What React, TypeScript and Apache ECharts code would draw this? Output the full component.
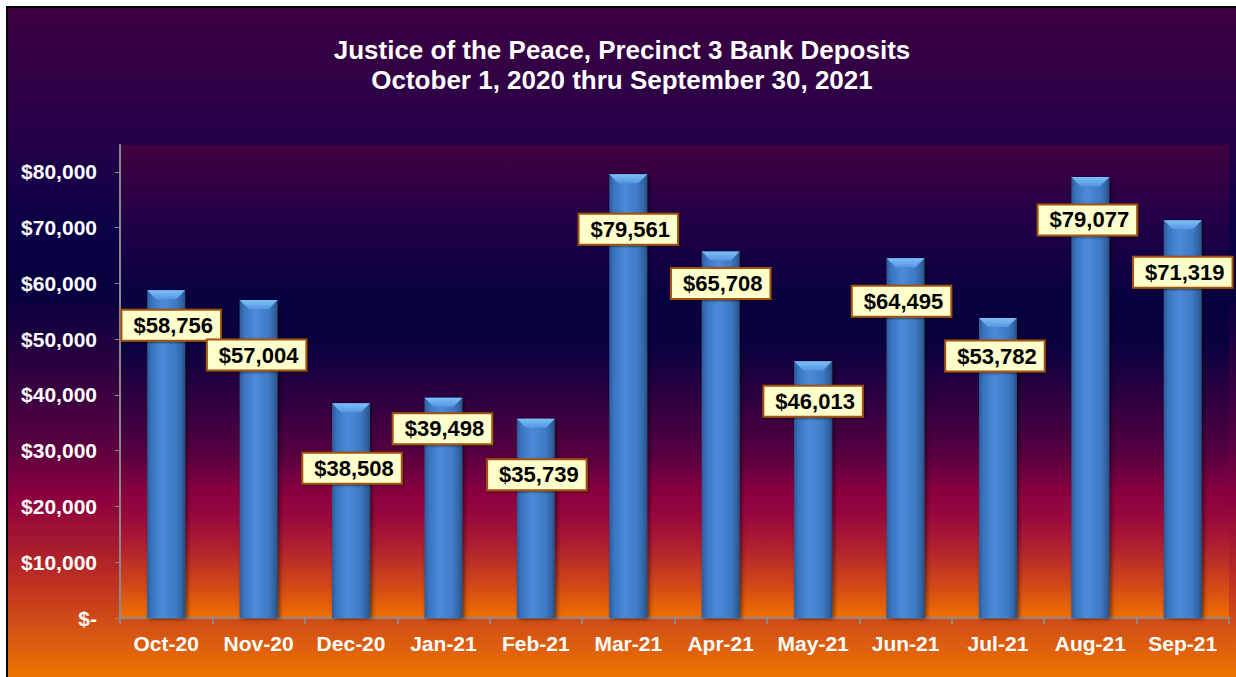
import React, { useEffect, useRef } from "react";
import * as echarts from "echarts";

const titleLine1 = "Justice of the Peace, Precinct 3 Bank Deposits";
const titleLine2 = "October 1, 2020 thru September 30, 2021";
const months = ["Oct-20", "Nov-20", "Dec-20", "Jan-21", "Feb-21", "Mar-21", "Apr-21", "May-21", "Jun-21", "Jul-21", "Aug-21", "Sep-21"];
const deposits = [58756, 57004, 38508, 39498, 35739, 79561, 65708, 46013, 64495, 53782, 79077, 71319];
const yTicks = [0, 10000, 20000, 30000, 40000, 50000, 60000, 70000, 80000];
// label placement (style): px below the bar top for label centre, and horizontal nudge
const labelDy = [35, 55, 65, 31, 56, 55, 32, 40, 43, 38, 43, 52];
const labelDx = [5, -2, 1, -1, 1, 0, 0, 0, -4, -3, -3, 0];

const FONT = 'Arial, "Liberation Sans", sans-serif';

function fmtMoney(v: number): string {
  if (v === 0) return "$-";
  return "$" + v.toLocaleString("en-US");
}

export default function App() {
  const ref = useRef<HTMLDivElement>(null);
  useEffect(() => {
    if (!ref.current) return;
    const chart = echarts.init(ref.current, undefined, { renderer: "svg" });
    const barW = 38;
    const option: any = {
      animation: false,
      backgroundColor: {
        type: "linear", x: 0, y: 0, x2: 0, y2: 1,
        colorStops: [
          { offset: 0, color: "#3d0040" },
          { offset: 0.2, color: "#25004a" },
          { offset: 0.33, color: "#0a0046" },
          { offset: 0.43, color: "#080040" },
          { offset: 0.556, color: "#330040" },
          { offset: 0.646, color: "#550040" },
          { offset: 0.735, color: "#8e003e" },
          { offset: 0.8, color: "#a51a30" },
          { offset: 0.86, color: "#c03020" },
          { offset: 0.915, color: "#d04c18" },
          { offset: 1, color: "#ee7400" },
        ],
      },
      title: {
        text: titleLine1 + "\n" + titleLine2,
        left: "center",
        top: 27,
        padding: 0,
        textStyle: { color: "#ffffff", fontSize: 26, fontWeight: "bold", fontFamily: FONT, lineHeight: 30 },
      },
      grid: {
        left: 112, right: 7, top: 137, bottom: 59,
        show: true,
        borderWidth: 0,
        backgroundColor: {
          type: "linear", x: 0, y: 0, x2: 0, y2: 1,
          colorStops: [
            { offset: 0, color: "#420040" },
            { offset: 0.18, color: "#1e0048" },
            { offset: 0.33, color: "#070040" },
            { offset: 0.42, color: "#0a0040" },
            { offset: 0.54, color: "#2e0040" },
            { offset: 0.65, color: "#550040" },
            { offset: 0.73, color: "#880040" },
            { offset: 0.79, color: "#9a0a3c" },
            { offset: 0.85, color: "#b02030" },
            { offset: 0.93, color: "#d04818" },
            { offset: 1, color: "#f07000" },
          ],
        },
      },
      xAxis: {
        type: "category",
        data: months,
        axisLine: { show: true, lineStyle: { color: "#8a8a8a", width: 2 } },
        axisTick: { show: true, length: 6, lineStyle: { color: "#8a8a8a", width: 2 } },
        axisLabel: { color: "#ffffff", fontSize: 21, fontWeight: "bold", fontFamily: FONT, margin: 15, interval: 0, hideOverlap: false },
      },
      yAxis: {
        type: "value",
        min: 0,
        max: 84800,
        interval: 10000,
        splitLine: { show: false },
        axisLine: { show: true, lineStyle: { color: "#8a8a8a", width: 2 } },
        axisTick: { show: true, length: 5, lineStyle: { color: "#8a8a8a", width: 1 }, customValues: yTicks },
        axisLabel: {
          color: "#ffffff", fontSize: 21, fontWeight: "bold", fontFamily: FONT, margin: 23,
          customValues: yTicks,
          formatter: (v: number) => fmtMoney(v),
        },
      },
      series: [
        {
          type: "bar",
          barWidth: barW,
          z: 2,
          data: deposits.map((v, i) => ({
            value: v,
            label: { position: [barW / 2 + labelDx[i], labelDy[i]] },
          })),
          itemStyle: {
            color: {
              type: "linear", x: 0, y: 0, x2: 1, y2: 0,
              colorStops: [
                { offset: 0, color: "#2b5b98" },
                { offset: 0.12, color: "#3a74c0" },
                { offset: 0.4, color: "#4a8bd8" },
                { offset: 0.75, color: "#3f7ac6" },
                { offset: 0.92, color: "#31629f" },
                { offset: 1, color: "#254e85" },
              ],
            },
            shadowColor: "rgba(0,0,0,0.55)",
            shadowBlur: 4,
            shadowOffsetX: 2,
            shadowOffsetY: 1,
          },
          label: {
            show: true,
            align: "center",
            verticalAlign: "middle",
            formatter: (p: any) => fmtMoney(p.value),
            color: "#000000",
            fontSize: 22,
            fontWeight: "bold",
            fontFamily: FONT,
            backgroundColor: "#ffffcc",
            borderColor: "#a3520f",
            borderWidth: 2,
            padding: [4, 7, 3, 11],
            shadowColor: "rgba(0,0,0,0.5)",
            shadowBlur: 2,
            shadowOffsetX: 1,
            shadowOffsetY: 1,
          },
        },
        {
          type: "custom",
          z: 3,
          silent: true,
          data: deposits.map((v, i) => [i, v]),
          renderItem: (params: any, api: any) => {
            const p = api.coord([api.value(0), api.value(1)]);
            const half = barW / 2;
            const inset = 9;
            const h = 9;
            return {
              type: "polygon",
              shape: {
                points: [
                  [p[0] - half, p[1]],
                  [p[0] + half, p[1]],
                  [p[0] + half - inset, p[1] + h],
                  [p[0] - half + inset, p[1] + h],
                ],
              },
              style: {
                fill: {
                  type: "linear", x: 0, y: 0, x2: 0, y2: 1,
                  colorStops: [
                    { offset: 0, color: "#7cc0fa" },
                    { offset: 1, color: "#5596e2" },
                  ],
                },
              },
            };
          },
        },
      ],
    };
    chart.setOption(option);
    return () => chart.dispose();
  }, []);
  return (
    <div style={{ position: "absolute", left: 0, top: 0, width: 1236, height: 677, background: "#ffffff", overflow: "hidden" }}>
      <div style={{ position: "absolute", left: 6, top: 6, width: 1230, height: 671, background: "#000000" }} />
      <div ref={ref} style={{ position: "absolute", left: 8, top: 8, width: 1228, height: 669 }} />
    </div>
  );
}
